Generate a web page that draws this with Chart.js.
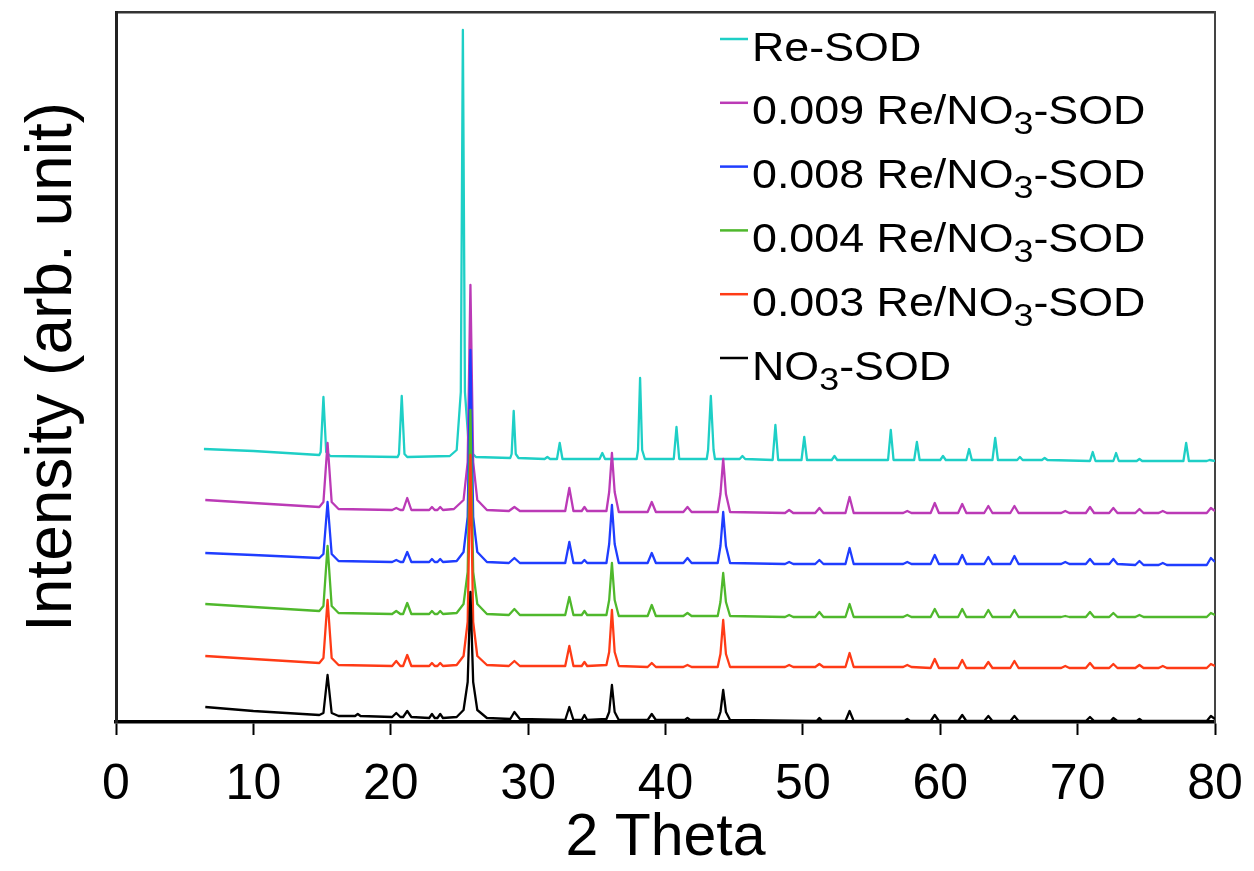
<!DOCTYPE html>
<html>
<head>
<meta charset="utf-8">
<title>XRD patterns</title>
<script src="https://cdn.jsdelivr.net/npm/chart.js@4/dist/chart.umd.min.js"></script>
<style>
  html, body { margin: 0; padding: 0; background: #fff; }
  #wrap { width: 1254px; height: 871px; }
</style>
</head>
<body>
<div id="wrap"><canvas id="xrd" width="1254" height="871"></canvas></div>
<script>
// 2-theta vs intensity, as stacked in the figure (offsets already in the values)
const xTicks = [0, 10, 20, 30, 40, 50, 60, 70, 80];

const no3Sod = [
  [6.5,15],[10,11],[14.8,7],[15.1,9],[15.4,47],[15.7,9],[16.2,6],[17.4,6],[17.6,8],[17.8,6],
  [20.1,5],[20.4,9],[20.7,5],[20.9,5],[21.2,11],[21.5,5],[22.8,4],[23.0,8],[23.2,4],[23.4,4],
  [23.6,8],[23.8,4],[24.8,5],[25.3,12],[25.6,40],[25.8,130],[26.0,40],[26.3,12],[27.0,4],
  [28.7,3],[29.0,10],[29.4,3],[32.7,2],[33.0,15],[33.3,2],[33.9,2],[34.1,7],[34.3,2],
  [35.7,3],[35.9,10],[36.1,37],[36.3,10],[36.6,2],[38.7,2],[39.0,8],[39.3,2],[41.4,2],[41.6,4],
  [41.8,2],[43.8,2],[44.0,10],[44.2,32],[44.4,10],[44.7,2],[51.0,1],[51.2,4],[51.4,1],
  [53.1,1],[53.4,11],[53.7,1],[57.4,1],[57.6,3],[57.8,1],[59.3,1],[59.6,7],[59.9,1],
  [61.3,1],[61.6,7],[61.9,1],[63.2,1],[63.5,6],[63.8,1],[65.1,1],[65.4,6],[65.7,1],
  [70.6,1],[70.9,5],[71.2,1],[72.4,1],[72.6,4],[72.9,1],[74.3,1],[74.5,3],[74.7,1],
  [79.4,1],[79.7,6],[80,3],
];

const re003 = [
  [6.5,66],[10,63],[14.8,59],[15.1,64],[15.4,122],[15.7,64],[16.2,57],[20.1,56],[20.4,61],
  [20.7,56],[20.9,56],[21.2,67],[21.5,56],[22.8,56],[23.0,59],[23.2,56],[23.4,56],[23.6,59],
  [23.8,56],[24.8,57],[25.3,66],[25.6,100],[25.8,267],[26.0,100],[26.3,66],[27.0,57],
  [28.6,56],[29.0,61],[29.4,56],[32.7,56],[33.0,76],[33.3,56],[33.9,56],[34.1,60],[34.3,56],
  [35.7,57],[35.9,70],[36.1,112],[36.3,70],[36.6,56],[38.7,55],[39.0,59],[39.3,55],
  [41.3,55],[41.6,57],[41.9,55],[43.8,55],[44.0,68],[44.2,102],[44.4,68],[44.7,55],
  [48.7,55],[49.0,57],[49.3,55],[50.9,55],[51.2,58],[51.5,55],[53.1,55],[53.4,69],[53.7,55],
  [57.3,55],[57.6,57],[57.9,55],[59.3,54],[59.6,63],[59.9,54],[61.3,54],[61.6,62],[61.9,54],
  [63.2,54],[63.5,60],[63.8,54],[65.1,54],[65.4,61],[65.7,54],[68.8,54],[69.1,56],[69.4,54],
  [70.6,54],[70.9,59],[71.2,54],[72.3,54],[72.6,58],[72.9,54],[74.2,54],[74.5,57],[74.8,54],
  [75.9,54],[76.2,56],[76.5,54],[79.4,54],[79.7,58],[80,56],
];

const re004 = [
  [6.5,118],[10,115],[14.8,111],[15.1,116],[15.4,176],[15.7,116],[16.2,109],[20.1,108],
  [20.4,111],[20.7,108],[20.9,108],[21.2,119],[21.5,108],[22.8,108],[23.0,111],[23.2,108],
  [23.4,108],[23.6,111],[23.8,108],[24.8,109],[25.3,118],[25.6,150],[25.8,312],[26.0,150],
  [26.3,118],[27.0,108],[28.6,107],[29.0,113],[29.4,107],[32.7,107],[33.0,125],[33.3,107],
  [33.9,107],[34.1,111],[34.3,107],[35.7,107],[35.9,122],[36.1,159],[36.3,122],[36.6,106],
  [38.7,106],[39.0,117],[39.3,106],[41.3,106],[41.6,109],[41.9,106],[43.8,106],[44.0,120],
  [44.2,149],[44.4,120],[44.7,106],[48.7,105],[49.0,107],[49.3,105],[50.9,105],[51.2,110],
  [51.5,105],[53.1,105],[53.4,118],[53.7,105],[57.3,105],[57.6,107],[57.9,105],[59.3,105],
  [59.6,113],[59.9,105],[61.3,105],[61.6,113],[61.9,105],[63.2,105],[63.5,112],[63.8,105],
  [65.1,105],[65.4,112],[65.7,105],[68.8,105],[69.1,106],[69.4,105],[70.6,105],[70.9,110],
  [71.2,105],[72.3,105],[72.6,109],[72.9,105],[74.2,105],[74.5,107],[74.8,105],[79.4,105],
  [79.7,109],[80,107],
];

const re008 = [
  [6.5,169],[10,167],[14.8,164],[15.1,168],[15.4,220],[15.7,168],[16.2,161],[20.1,160],
  [20.4,162],[20.7,160],[20.9,160],[21.2,170],[21.5,160],[22.8,160],[23.0,163],[23.2,160],
  [23.4,160],[23.6,163],[23.8,160],[24.8,161],[25.3,170],[25.6,205],[25.8,372],[26.0,205],
  [26.3,170],[27.0,160],[28.6,159],[29.0,164],[29.4,159],[32.7,159],[33.0,180],[33.3,159],
  [33.9,159],[34.1,162],[34.3,159],[35.7,159],[35.9,178],[36.1,217],[36.3,178],[36.6,159],
  [38.7,159],[39.0,169],[39.3,159],[41.3,159],[41.6,164],[41.9,159],[43.8,159],[44.0,176],
  [44.2,210],[44.4,176],[44.7,159],[48.7,158],[49.0,160],[49.3,158],[50.9,158],[51.2,162],
  [51.5,158],[53.1,158],[53.4,174],[53.7,158],[57.3,158],[57.6,160],[57.9,158],[59.3,158],
  [59.6,167],[59.9,158],[61.3,158],[61.6,167],[61.9,158],[63.2,158],[63.5,165],[63.8,158],
  [65.1,158],[65.4,166],[65.7,158],[68.8,158],[69.1,160],[69.4,158],[70.6,158],[70.9,163],
  [71.2,158],[72.3,158],[72.6,163],[72.9,158],[74.2,157],[74.5,161],[74.8,157],[75.9,157],
  [76.2,159],[76.5,157],[79.4,157],[79.7,164],[80,160],
];

const re009 = [
  [6.5,222],[10,219],[14.8,215],[15.1,220],[15.4,279],[15.7,220],[16.2,213],[20.1,212],
  [20.4,214],[20.7,212],[20.9,212],[21.2,224],[21.5,212],[22.8,212],[23.0,215],[23.2,212],
  [23.4,212],[23.6,215],[23.8,212],[24.6,213],[25.3,222],[25.6,260],[25.8,437],[26.0,260],
  [26.3,222],[27.0,212],[28.6,211],[29.0,215],[29.4,211],[32.7,211],[33.0,234],[33.3,211],
  [33.9,211],[34.1,215],[34.3,211],[35.7,211],[35.9,230],[36.1,269],[36.3,230],[36.6,210],
  [38.7,210],[39.0,220],[39.3,210],[41.3,210],[41.6,215],[41.9,210],[43.8,210],[44.0,228],
  [44.2,263],[44.4,228],[44.7,210],[48.7,209],[49.0,212],[49.3,209],[50.9,209],[51.2,214],
  [51.5,209],[53.1,209],[53.4,225],[53.7,209],[57.3,209],[57.6,211],[57.9,209],[59.3,209],
  [59.6,219],[59.9,209],[61.3,209],[61.6,218],[61.9,209],[63.2,209],[63.5,216],[63.8,209],
  [65.1,209],[65.4,216],[65.7,209],[68.8,209],[69.1,211],[69.4,209],[70.6,209],[70.9,215],
  [71.2,209],[72.3,209],[72.6,214],[72.9,209],[74.2,209],[74.5,213],[74.8,209],[75.9,209],
  [76.2,211],[76.5,209],[79.4,209],[79.7,214],[80,211],
];

const reSod = [
  [6.4,273],[10,271],[14.8,267],[14.9,270],[15.1,325],[15.3,270],[15.6,266],[20.5,265],
  [20.6,268],[20.8,326],[21.0,268],[21.2,265],[24.3,266],[24.8,272],[25.1,330],[25.25,692],
  [25.4,330],[25.7,272],[26.2,265],[28.7,264],[28.8,268],[28.95,311],[29.1,268],[29.3,264],
  [31.2,263],[31.4,265],[31.6,263],[32.1,263],[32.3,279],[32.5,263],[35.2,263],[35.4,269],
  [35.6,263],[37.9,263],[38.0,272],[38.15,344],[38.3,272],[38.5,263],[40.6,263],[40.8,295],
  [41.0,263],[43.0,263],[43.1,272],[43.3,326],[43.5,272],[43.6,263],[45.4,263],[45.6,266],
  [45.8,263],[47.8,262],[48.0,297],[48.2,262],[49.9,262],[50.1,285],[50.3,262],[52.1,262],
  [52.3,266],[52.5,262],[56.2,262],[56.4,292],[56.6,262],[58.1,262],[58.3,280],[58.5,262],
  [60.0,262],[60.2,266],[60.4,262],[61.9,262],[62.1,273],[62.3,262],[63.8,262],[64.0,284],
  [64.2,262],[65.6,262],[65.8,265],[66.0,262],[67.4,262],[67.6,264],[67.8,262],[70.9,261],
  [71.1,270],[71.3,261],[72.6,261],[72.8,269],[73.0,261],[74.3,261],[74.5,263],[74.7,261],
  [77.7,261],[77.9,279],[78.1,261],[79.4,261],[79.6,262],[80,261],
];

// legend order (top to bottom) as in the figure
const seriesLabels = [
  "Re-SOD",
  "0.009 Re/NO3-SOD",
  "0.008 Re/NO3-SOD",
  "0.004 Re/NO3-SOD",
  "0.003 Re/NO3-SOD",
  "NO3-SOD",
];
const seriesData = [reSod, re009, re008, re004, re003, no3Sod];
const seriesColors = ["#1ecfc6", "#bb3ab6", "#1f3dff", "#4fb82c", "#ff3b16", "#000000"];

const FONT = "'Liberation Sans', Arial, Helvetica, sans-serif";

// legend drawn by hand so NO3 can carry a subscript 3
const sodLegend = {
  id: "sodLegend",
  afterDraw(chart) {
    const ctx = chart.ctx;
    const lineX0 = 720, lineX1 = 748, textX = 752;
    const rowY0 = 39, rowGap = 63.8, stretch = 1.12;
    ctx.save();
    seriesLabels.forEach((label, i) => {
      const y = rowY0 + i * rowGap;
      ctx.strokeStyle = seriesColors[i];
      ctx.lineWidth = 2.5;
      ctx.beginPath();
      ctx.moveTo(lineX0, y);
      ctx.lineTo(lineX1, y);
      ctx.stroke();

      const base = y + 21.5;
      ctx.fillStyle = "#000";
      ctx.textBaseline = "alphabetic";
      ctx.textAlign = "left";
      const parts = label.split("NO3");
      let x = textX;
      const put = (txt, size, dy) => {
        ctx.font = `${size}px ${FONT}`;
        ctx.save();
        ctx.translate(x, base + dy);
        ctx.scale(stretch, 1);
        ctx.fillText(txt, 0, 0);
        ctx.restore();
        x += ctx.measureText(txt).width * stretch;
      };
      parts.forEach((p, k) => {
        if (k > 0) {
          put("NO", 40, 0);
          put("3", 32, 10);
        }
        if (p) put(p, 40, 0);
      });
    });
    ctx.restore();
  },
};

// draw order: the lower patterns sit on top of the upper ones
const drawOrder = [5, 4, 3, 2, 1, 0];
const datasets = drawOrder.map((i) => ({
  label: seriesLabels[i],
  data: seriesData[i].map(([x, y]) => ({ x, y })),
  borderColor: seriesColors[i],
  borderWidth: 2.3,
  borderJoinStyle: "round",
  pointRadius: 0,
  tension: 0,
  fill: false,
}));

new Chart(document.getElementById("xrd"), {
  type: "line",
  data: { datasets },
  options: {
    responsive: false,
    animation: false,
    devicePixelRatio: 1,
    layout: { padding: { left: 0, right: 39, top: 12, bottom: 0 } },
    plugins: { legend: { display: false }, tooltip: { enabled: false } },
    scales: {
      x: {
        type: "linear",
        position: "bottom",
        min: 0,
        max: 80,
        afterBuildTicks: (scale) => {
          scale.ticks = xTicks.map((v) => ({ value: v }));
        },
        ticks: { color: "#000", font: { family: FONT, size: 50, lineHeight: 1.88 }, padding: 3, maxRotation: 0 },
        grid: { display: true, drawOnChartArea: false, drawTicks: true, tickLength: 13, tickWidth: 2, tickColor: "#000" },
        border: { display: true, color: "#000", width: 3.5 },
        title: { display: true, text: "2 Theta", color: "#000", font: { family: FONT, size: 59, lineHeight: 1 }, padding: { top: 0, bottom: 2.5 } },
        afterFit: (scale) => { scale.height = 149; },
      },
      xTop: {
        type: "linear",
        position: "top",
        min: 0,
        max: 80,
        ticks: { display: false },
        grid: { display: false, drawTicks: false },
        border: { display: true, color: "#333", width: 2.5 },
        afterFit: (scale) => { scale.height = 0; },
      },
      y: {
        type: "linear",
        position: "left",
        min: 0,
        max: 710,
        ticks: { display: false },
        grid: { display: false, drawTicks: false },
        border: { display: true, color: "#222", width: 3 },
        title: { display: true, text: "Intensity (arb. unit)", color: "#000", font: { family: FONT, size: 64, lineHeight: 1 }, padding: { top: 21, bottom: 0 } },
        afterFit: (scale) => { scale.width = 116; },
      },
      yRight: {
        type: "linear",
        position: "right",
        min: 0,
        max: 710,
        ticks: { display: false },
        grid: { display: false, drawTicks: false },
        border: { display: true, color: "#444", width: 2 },
        afterFit: (scale) => { scale.width = 0; },
      },
    },
  },
  plugins: [sodLegend],
});
</script>
</body>
</html>
